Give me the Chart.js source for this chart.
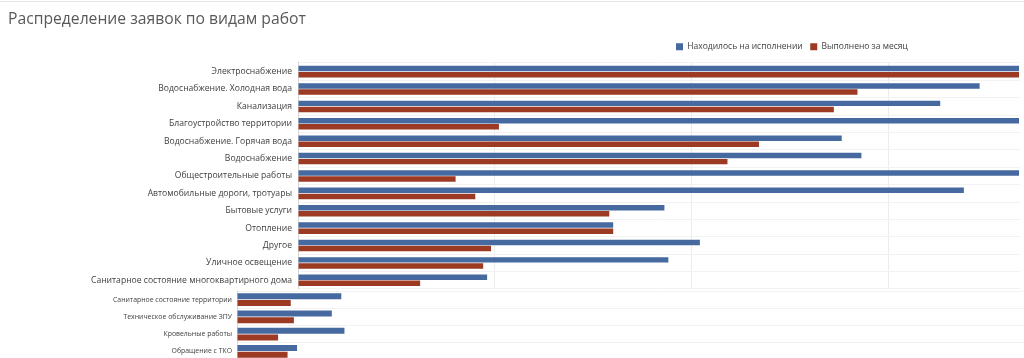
<!DOCTYPE html>
<html>
<head>
<meta charset="utf-8">
<script src="https://cdn.jsdelivr.net/npm/chart.js@4/dist/chart.umd.min.js"></script>
<style>
  html, body { margin: 0; padding: 0; background: #ffffff; }
  body { width: 1024px; height: 358px; position: relative; overflow: hidden; }
  #topline { position: absolute; left: 0; top: 1px; width: 1024px; height: 0; border-top: 1px solid #e8e8e8; }
  #cA { position: absolute; left: 0; top: 0; }
  #cB { position: absolute; left: 0; top: 289px; }
</style>
</head>
<body>
<div id="topline"></div>
<canvas id="cA" width="1024" height="289"></canvas>
<canvas id="cB" width="1024" height="71"></canvas>
<script>
// ---- data ----
const titleText = "Распределение заявок по видам работ";
const seriesNames = ["Находилось на исполнении", "Выполнено за месяц"];

const categoriesTop = [
  "Электроснабжение",
  "Водоснабжение. Холодная вода",
  "Канализация",
  "Благоустройство территории",
  "Водоснабжение. Горячая вода",
  "Водоснабжение",
  "Общестроительные работы",
  "Автомобильные дороги, тротуары",
  "Бытовые услуги",
  "Отопление",
  "Другое",
  "Уличное освещение",
  "Санитарное состояние многоквартирного дома"
];
const inProgressTop = [183, 173, 163, 183, 138, 143, 183, 169, 93, 80, 102, 94, 48];
const doneTop       = [183, 142, 136, 51, 117, 109, 40, 45, 79, 80, 49, 47, 31];

const categoriesBottom = [
  "Санитарное состояние территории",
  "Техническое обслуживание ЗПУ",
  "Кровельные работы",
  "Обращение с ТКО"
];
const inProgressBottom = [33, 30, 34, 19];
const doneBottom       = [17, 18, 13, 16];

const gridStep = 50;

// ---- styles ----
const BLUE = "#466a9f";
const RED = "#9c3a23";
const FONT = "'Open Sans', 'Noto Sans', 'DejaVu Sans', sans-serif";

Chart.defaults.font.family = FONT;
Chart.defaults.color = "#404040";

const legendShift = {
  id: "legendShift",
  afterLayout(chart) {
    const lg = chart.legend;
    if (!lg) return;
    const w = lg.right - lg.left;
    const h = lg.bottom - lg.top;
    lg.left = 668.5; lg.right = 668.5 + w;
    lg.top = 35; lg.bottom = 35 + h;
  }
};

function gridColor(ctx) {
  const v = ctx.tick ? ctx.tick.value : 0;
  return (v > 0 && Math.abs(v % gridStep) < 1e-6) ? "#ececec" : "rgba(0,0,0,0)";
}
function noPad(s) { s.paddingTop = 0; s.paddingBottom = 0; }

new Chart(document.getElementById("cA"), {
  type: "bar",
  data: {
    labels: categoriesTop,
    datasets: [
      { label: seriesNames[0], data: inProgressTop, backgroundColor: BLUE, categoryPercentage: 0.7, barPercentage: 0.9 },
      { label: seriesNames[1], data: doneTop, backgroundColor: RED, categoryPercentage: 0.7, barPercentage: 0.9 }
    ]
  },
  plugins: [legendShift],
  options: {
    indexAxis: "y",
    responsive: false,
    animation: false,
    layout: { padding: { left: 8, right: 4, top: 0, bottom: 0 } },
    plugins: {
      title: {
        display: true, text: titleText, align: "start", color: "#595959",
        font: { size: 15.7, weight: "normal", family: FONT },
        padding: { top: 10.6, bottom: 7.5 }
      },
      legend: {
        display: true, position: "top", align: "start",
        labels: {
          boxWidth: 7, boxHeight: 7, padding: 7.5, color: "#404040",
          font: { size: 8.5, family: FONT }
        }
      },
      tooltip: { enabled: false }
    },
    scales: {
      x: {
        min: 0, max: 183.25,
        ticks: { display: false, stepSize: gridStep },
        grid: { color: gridColor, drawTicks: false, lineWidth: 1 },
        border: { display: false },
        afterFit(s) { s.height = 0; }
      },
      y: {
        ticks: { color: "#404040", padding: 6, font: { size: 8.6, family: FONT }, autoSkip: false },
        grid: { color: "#f2f2f2", drawTicks: false, offset: true },
        border: { display: true, color: "#d6d6d6" },
        afterFit(s) { s.width = 290; noPad(s); }
      }
    }
  }
});

new Chart(document.getElementById("cB"), {
  type: "bar",
  data: {
    labels: categoriesBottom,
    datasets: [
      { label: seriesNames[0], data: inProgressBottom, backgroundColor: BLUE, categoryPercentage: 0.78, barPercentage: 0.9 },
      { label: seriesNames[1], data: doneBottom, backgroundColor: RED, categoryPercentage: 0.78, barPercentage: 0.9 }
    ]
  },
  options: {
    indexAxis: "y",
    responsive: false,
    animation: false,
    layout: { padding: { left: 0, right: 0, top: 2, bottom: 0 } },
    plugins: { legend: { display: false }, title: { display: false }, tooltip: { enabled: false } },
    scales: {
      x: {
        min: 0, max: 249,
        ticks: { display: false, stepSize: gridStep },
        grid: { color: gridColor, drawTicks: false },
        border: { display: false },
        afterFit(s) { s.height = 0; }
      },
      y: {
        ticks: { color: "#404040", padding: 5, font: { size: 6.9, family: FONT }, autoSkip: false },
        grid: { color: "#f2f2f2", drawTicks: false, offset: true },
        border: { display: true, color: "#d6d6d6" },
        afterFit(s) { s.width = 237; noPad(s); }
      }
    }
  }
});
</script>
</body>
</html>
